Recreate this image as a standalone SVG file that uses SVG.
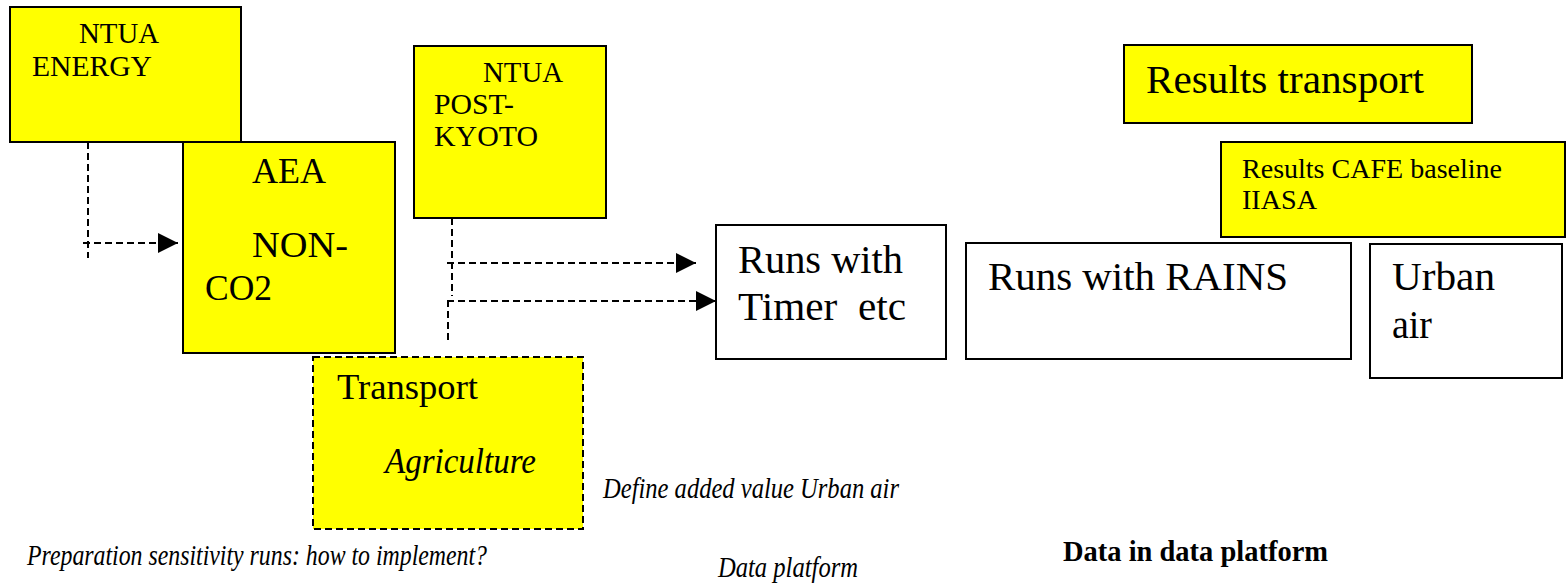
<svg xmlns="http://www.w3.org/2000/svg" width="1566" height="586" viewBox="0 0 1566 586" font-family="'Liberation Serif', Tinos, 'Times New Roman', 'DejaVu Serif', serif">
<defs>
<style>
.box{fill:#ffff00;stroke:#000;stroke-width:2}
.wbox{fill:#fff;stroke:#000;stroke-width:2}
.dbox{fill:#ffff00;stroke:#000;stroke-width:2;stroke-dasharray:7 4}
text{font-family:'Liberation Serif', Tinos, 'Times New Roman', 'DejaVu Serif', serif;fill:#000;white-space:pre}
.s29{font-size:29px}
.s36{font-size:36px}
.s41{font-size:41px}
.s28{font-size:28px}
.it{font-style:italic}
.conn{fill:none;stroke:#000;stroke-width:2;stroke-dasharray:7 4}
</style>
<marker id="ah" markerWidth="20" markerHeight="20" refX="20" refY="10" orient="auto" markerUnits="userSpaceOnUse">
<path d="M0,0 L20,10 L0,20 Z" fill="#000"/>
</marker>
</defs>
<rect width="1566" height="586" fill="#fff"/>

<g id="ntua-energy">
<rect class="box" x="10" y="7" width="231" height="135"/>
<text class="s29" x="79" y="43" textLength="80" lengthAdjust="spacingAndGlyphs">NTUA</text>
<text class="s29" x="32" y="76" textLength="120" lengthAdjust="spacingAndGlyphs">ENERGY</text>
</g>

<g id="aea">
<rect class="box" x="183" y="142" width="212" height="211"/>
<text class="s36" x="252" y="183" textLength="74" lengthAdjust="spacingAndGlyphs">AEA</text>
<text class="s36" x="252" y="257" textLength="96" lengthAdjust="spacingAndGlyphs">NON-</text>
<text class="s36" x="205" y="300" textLength="67" lengthAdjust="spacingAndGlyphs">CO2</text>
</g>

<g id="ntua-postkyoto">
<rect class="box" x="414" y="46" width="192" height="172"/>
<text class="s29" x="483" y="82" textLength="80" lengthAdjust="spacingAndGlyphs">NTUA</text>
<text class="s29" x="434" y="114" textLength="80" lengthAdjust="spacingAndGlyphs">POST-</text>
<text class="s29" x="434" y="146" textLength="104" lengthAdjust="spacingAndGlyphs">KYOTO</text>
</g>

<g id="transport">
<rect class="dbox" x="313" y="357" width="270" height="172"/>
<text class="s36" x="337" y="399" textLength="141" lengthAdjust="spacingAndGlyphs">Transport</text>
<text class="s36 it" x="385" y="473" textLength="151" lengthAdjust="spacingAndGlyphs">Agriculture</text>
</g>

<g id="timer">
<rect class="wbox" x="716" y="225" width="230" height="134"/>
<text class="s41" x="738" y="273" textLength="165" lengthAdjust="spacingAndGlyphs">Runs with</text>
<text class="s41" x="738" y="320" textLength="168" lengthAdjust="spacingAndGlyphs">Timer  etc</text>
</g>

<g id="results-transport">
<rect class="box" x="1124" y="45" width="348" height="78"/>
<text class="s41" x="1146" y="93" textLength="278" lengthAdjust="spacingAndGlyphs">Results transport</text>
</g>

<g id="results-cafe">
<rect class="box" x="1221" y="142" width="344" height="95"/>
<text class="s28" x="1242" y="178" textLength="260" lengthAdjust="spacingAndGlyphs">Results CAFE baseline</text>
<text class="s28" x="1242" y="209" textLength="75" lengthAdjust="spacingAndGlyphs">IIASA</text>
</g>

<g id="rains">
<rect class="wbox" x="966" y="243" width="385" height="116"/>
<text class="s41" x="988" y="290" textLength="300" lengthAdjust="spacingAndGlyphs">Runs with RAINS</text>
</g>

<g id="urban-air">
<rect class="wbox" x="1370" y="244" width="192" height="134"/>
<text class="s41" x="1392" y="290" textLength="103" lengthAdjust="spacingAndGlyphs">Urban</text>
<text class="s41" x="1392" y="338" textLength="40" lengthAdjust="spacingAndGlyphs">air</text>
</g>

<g id="connectors">
<path class="conn" d="M88,142 V258"/>
<path class="conn" d="M83,243 H178" marker-end="url(#ah)"/>
<path class="conn" d="M452,218 V296"/>
<path class="conn" d="M447,263 H696" marker-end="url(#ah)"/>
<path class="conn" d="M448,300 V340"/>
<path class="conn" d="M447,301 H716" marker-end="url(#ah)"/>
</g>

<g id="labels">
<text class="it" style="font-size:30px" x="27" y="565" textLength="460" lengthAdjust="spacingAndGlyphs">Preparation sensitivity runs: how to implement?</text>
<text class="it" style="font-size:29px" x="603" y="498" textLength="296" lengthAdjust="spacingAndGlyphs">Define added value Urban air</text>
<text class="it" style="font-size:29px" x="718" y="577" textLength="140" lengthAdjust="spacingAndGlyphs">Data platform</text>
<text style="font-size:28.5px;font-weight:bold" x="1063" y="561" textLength="265" lengthAdjust="spacingAndGlyphs">Data in data platform</text>
</g>
</svg>
